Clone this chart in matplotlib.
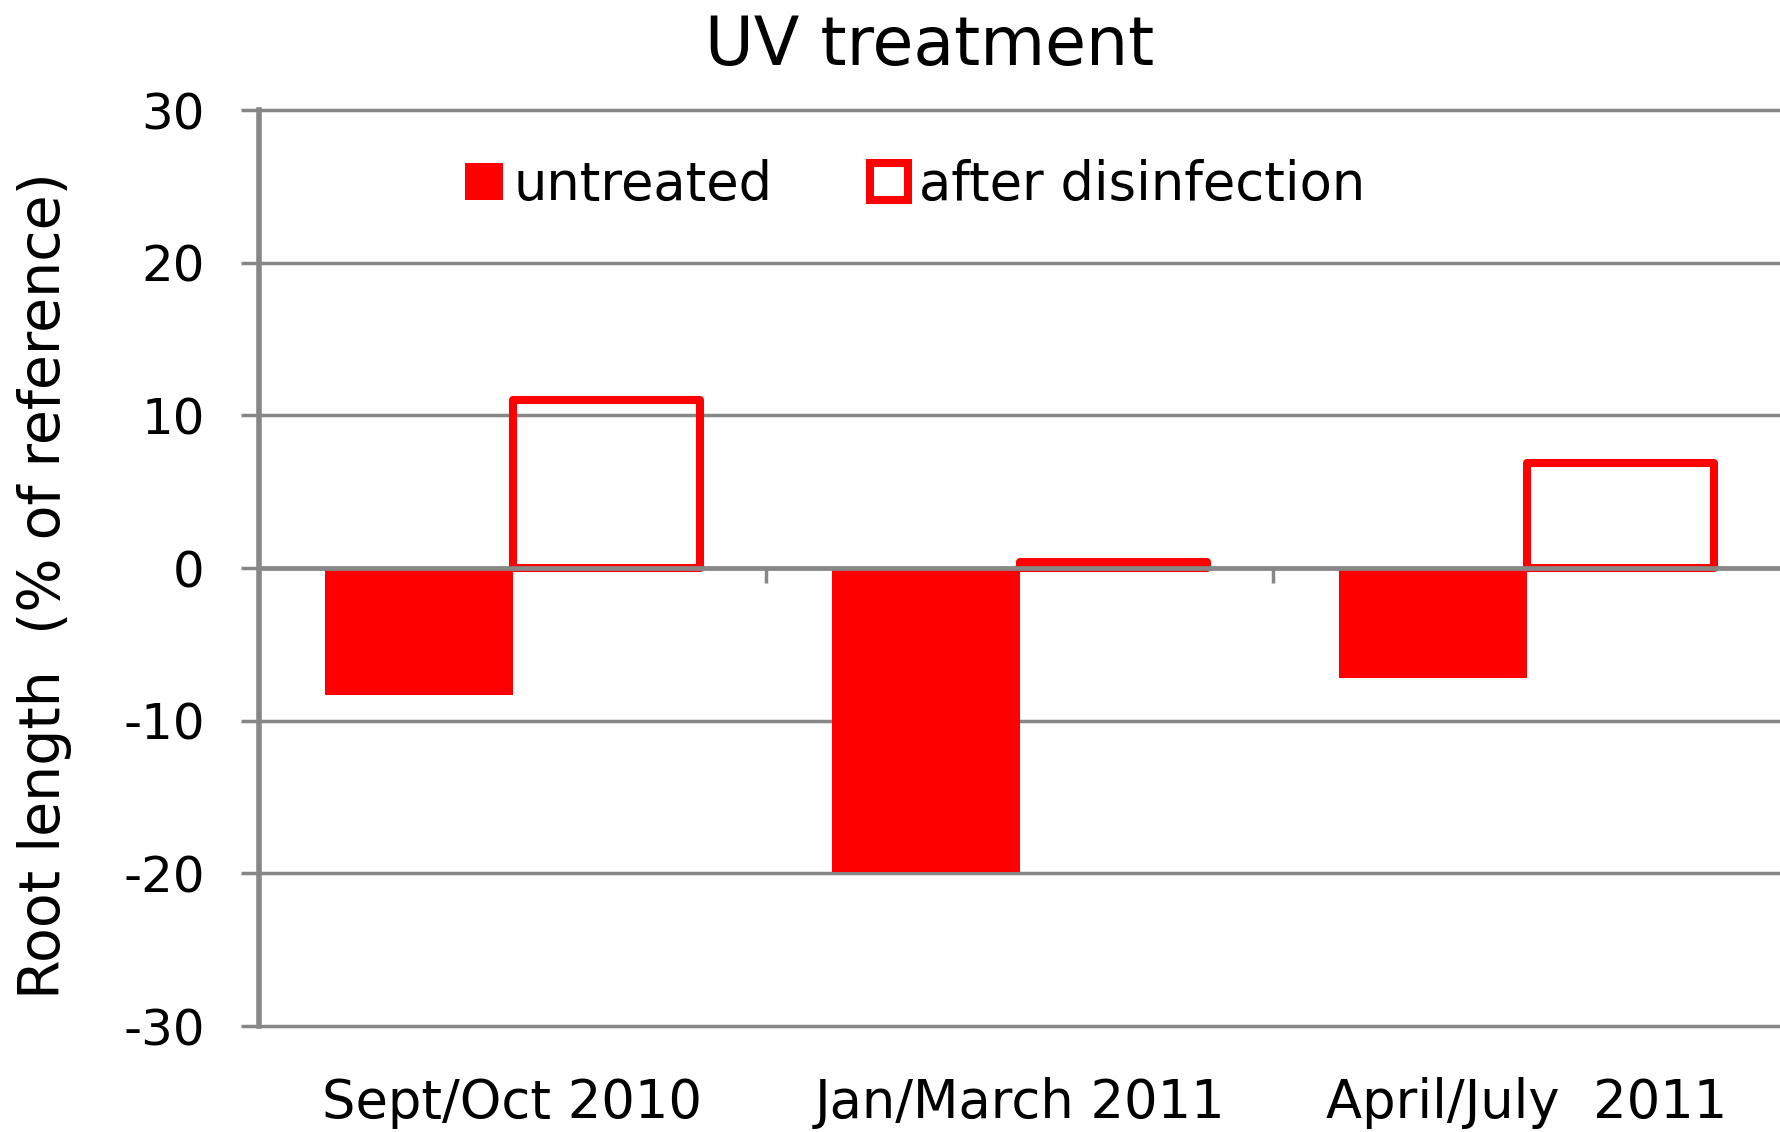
import matplotlib
matplotlib.use('Agg')
import matplotlib.pyplot as plt
import numpy as np

# values (% of reference)
periods = ['Sept/Oct 2010', 'Jan/March 2011', 'April/July  2011']
untreated = [-8.3, -19.9, -7.2]
after_disinfection = [11.0, 0.4, 6.9]
series_names = ['untreated', 'after disinfection']
yticks = [-30, -20, -10, 0, 10, 20, 30]

GRAY = '#878787'
RED = '#ff0000'


def plotUvTreatment(fname):
    plt.rcParams['font.family'] = ['DejaVu Sans']
    plt.rcParams['axes.unicode_minus'] = False

    fig = plt.figure(figsize=(17.8, 11.32), dpi=100)
    ax = fig.add_axes([259 / 1780, 1 - 1026 / 1132, 1 - 259 / 1780, 916 / 1132])

    x = np.arange(len(periods))
    wid = 0.37
    ax.bar(x - wid / 2, untreated, wid, color=RED, edgecolor='none',
           label=series_names[0], zorder=2)
    ax.bar(x + wid / 2, after_disinfection, wid, facecolor='none', edgecolor=RED,
           linewidth=5.8, joinstyle='round', label=series_names[1], zorder=2)

    ax.set_xlim(-0.5, len(periods) - 0.5)
    ax.set_ylim(yticks[0], yticks[-1])

    for s in ['top', 'right', 'bottom']:
        ax.spines[s].set_visible(False)
    ax.spines['left'].set_color(GRAY)
    ax.spines['left'].set_linewidth(4.0)

    ax.set_yticks(yticks)
    ax.tick_params(axis='y', length=13, width=2.5, color=GRAY, pad=26, labelsize=36)
    ax.set_xticks(x, periods)
    ax.tick_params(axis='x', length=0, pad=37, labelsize=38)

    # horizontal gridlines behind the bars, top and bottom ones not cut in half
    ax.set_axisbelow(True)
    ax.yaxis.grid(True, color=GRAY, linewidth=2.5)
    for gl in ax.yaxis.get_gridlines():
        gl.set_clip_on(False)

    # category axis sits on the zero line, with ticks between the groups
    sec = ax.secondary_xaxis(0.5)
    sec.set_alignment('bottom')
    sec.set_xticks(x[:-1] + 0.5)
    sec.tick_params(length=11, width=2.5, color=GRAY, direction='out', labelbottom=False)
    sec.spines['bottom'].set_color(GRAY)
    sec.spines['bottom'].set_linewidth(3.4)
    sec.set_zorder(3)

    ax.set_ylabel('Root length  (% of reference)', fontsize=41, va='center')
    ax.yaxis.set_label_coords(-0.1407, 0.481)

    fig.text(930 / 1780, 1 - 64.7 / 1132, 'UV treatment', fontsize=48,
             ha='center', va='baseline')

    ax.legend(ncol=2, loc='center left', bbox_to_anchor=(465 / 1780, 1 - 185 / 1132),
              bbox_transform=fig.transFigure, frameon=False, fontsize=38,
              handlelength=0.72, handleheight=0.68, handletextpad=0.2,
              columnspacing=1.85, borderpad=0, borderaxespad=0)

    fig.savefig(fname, dpi=100)


if __name__ == '__main__':
    plotUvTreatment('out.png')
